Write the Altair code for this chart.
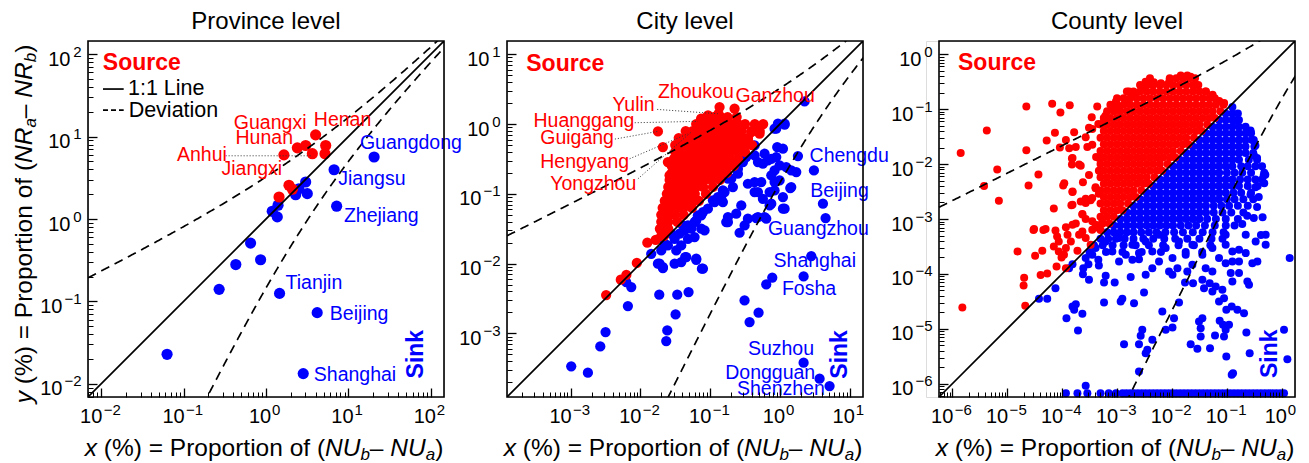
import altair as alt
import numpy as np
import pandas as pd

FONT = "Liberation Sans"
RED = "#ff0000"
BLUE = "#0000ff"
W = H = 356

# ---------------- Province level (values in %) ----------------
prov_source_x = [4.0, 2.4, 3.03, 3.65, 1.65, 5.3, 5.2, 1.9, 2.09, 1.44]
prov_source_y = [10.5, 7.3, 7.8, 6.2, 6.0, 7.8, 6.2, 2.57, 2.3, 1.85]
prov_sink_x = [6.7, 20.5, 7.2, 3.03, 3.17, 2.29, 2.51, 1.40, 1.19, 1.37, 0.65, 0.43, 0.86, 0.27, 1.46, 4.18, 0.063, 2.83]
prov_sink_y = [3.96, 5.65, 1.43, 2.81, 2.03, 1.97, 2.33, 1.47, 1.24, 1.06, 0.51, 0.28, 0.32, 0.14, 0.125, 0.073, 0.0228, 0.0133]

# ---------------- City level (log10 of x %, log10 of y %) ----------------
city_source_log = [
    (-0.865, 0.244), (-0.65, 0.22), (-0.88, 0.15), (-1.13, 0.077), (-1.03, 0.125),
    (-1.748, -0.105), (-1.677, -0.329), (-1.605, -0.544), (-1.581, -0.735),
    (-1.318, -0.162), (-0.411, -0.114), (-0.292, -0.138), (-0.459, -0.21),
    (-1.65, -1.45), (-1.66, -1.60), (-1.78, -1.66), (-1.90, -1.70), (-2.05, -1.99),
    (-2.20, -2.16), (-2.28, -2.23), (-2.49, -2.45),
]
city_source_rows = [
    (0.10, [-1.05, -0.95, -0.85, -0.75, -0.62]),
    (0.00, [-1.20, -1.10, -1.00, -0.90, -0.80, -0.70, -0.60, -0.50, -0.36, -0.24]),
    (-0.10, [-1.35, -1.25, -1.15, -1.05, -0.95, -0.85, -0.75, -0.65, -0.55, -0.41, -0.29]),
    (-0.20, [-1.45, -1.35, -1.25, -1.15, -1.05, -0.95, -0.85, -0.75, -0.65, -0.55, -0.46]),
    (-0.30, [-1.50, -1.40, -1.30, -1.20, -1.10, -1.00, -0.90, -0.80, -0.70, -0.60, -0.50, -0.40]),
    (-0.40, [-1.50, -1.40, -1.30, -1.20, -1.10, -1.00, -0.90, -0.80, -0.70, -0.60, -0.50]),
    (-0.50, [-1.52, -1.42, -1.32, -1.22, -1.12, -1.02, -0.92, -0.82, -0.72, -0.60]),
    (-0.60, [-1.55, -1.45, -1.35, -1.25, -1.15, -1.05, -0.95, -0.85, -0.75, -0.66]),
    (-0.70, [-1.55, -1.45, -1.35, -1.25, -1.15, -1.05, -0.95, -0.85, -0.76]),
    (-0.80, [-1.58, -1.48, -1.38, -1.28, -1.18, -1.08, -0.98, -0.86]),
    (-0.90, [-1.60, -1.50, -1.40, -1.30, -1.20, -1.10, -0.96]),
    (-1.00, [-1.62, -1.52, -1.42, -1.32, -1.22, -1.06]),
    (-1.10, [-1.65, -1.55, -1.45, -1.35, -1.25, -1.16]),
    (-1.20, [-1.68, -1.58, -1.48, -1.38, -1.26]),
    (-1.30, [-1.70, -1.60, -1.50, -1.38]),
    (-1.40, [-1.70, -1.60, -1.47]),
    (-1.50, [-1.72, -1.60]),
    (-1.60, [-1.70]),
]
city_sink_log = [
    (0.353, 0.325), (-0.053, -0.067), (0.067, -0.009), (-0.039, -0.329), (0.043, -0.353),
    (-0.220, -0.425), (-0.125, -0.497), (0.258, -0.458), (0.487, -0.664), (0.616, -1.141),
    (0.654, -1.347), (0.449, -1.891), (0.339, -2.182), (-0.110, -2.201), (-0.196, -2.297),
    (-0.507, -2.526), (-0.306, -2.703), (-0.435, -2.836), (0.339, -3.419), (0.568, -3.648),
    (0.711, -3.753),
    (-2.99, -3.47), (-2.751, -3.562), (-2.574, -3.185), (-2.498, -2.98), (-2.178, -2.607),
    (-2.130, -2.335), (-2.202, -2.264), (-1.729, -2.445), (-1.471, -2.445), (-1.309, -2.407),
    (-1.495, -2.727), (-1.614, -2.956), (-1.629, -3.109), (-1.724, -2.001), (-1.677, -2.063),
    (-1.509, -2.001), (-1.414, -1.977), (-1.357, -1.905), (-1.199, -1.944), (-1.118, -2.072),
    (-1.844, -1.858),
    (-0.029, 0.005), (0.067, 0.005), (-0.077, -0.067), (-0.172, -0.520), (-0.244, -0.568),
    (-0.053, -0.473), (-0.005, -0.592), (-0.077, -0.664), (0.090, -0.616), (0.162, -0.664),
    (0.234, -0.688), (0.148, -0.917), (0.043, -1.046), (0.043, -1.213), (-0.077, -0.950),
    (-0.077, -0.831), (-0.148, -0.974), (-0.459, -0.855), (-0.363, -0.831), (-0.268, -0.831),
    (-0.315, -0.974), (-0.244, -1.070), (-0.363, -0.974), (-0.148, -1.165), (-0.220, -1.332),
    (-0.339, -1.347), (-0.459, -1.356), (-0.554, -1.165), (-0.626, -1.284), (-0.745, -1.332),
    (-0.769, -1.404), (-0.578, -1.557), (-0.506, -1.452),
    (-0.745, -0.783), (-0.817, -0.950), (-0.889, -1.046), (-0.960, -1.093), (-1.032, -1.213),
    (-1.103, -1.261), (-1.175, -1.308), (-1.223, -1.404), (-1.318, -1.452), (-1.366, -1.523),
    (-1.438, -1.571), (-1.509, -1.643), (-1.127, -1.499), (-1.223, -1.619), (-1.318, -1.643),
    (-1.414, -1.738), (-1.485, -1.810), (-1.605, -1.738), (-1.700, -1.810), (-1.748, -2.001),
    (-1.676, -2.049), (-1.342, -1.905), (-1.199, -1.929), (-1.103, -2.072), (-1.557, -1.571),
    (-1.653, -1.714), (-1.080, -1.523), (-1.271, -1.499), (-1.390, -1.452), (-1.199, -1.380),
    (-1.127, -1.308), (-0.936, -1.117), (-0.817, -1.117), (-0.745, -1.404), (-0.315, -1.332),
    (-0.196, -1.356), (-0.124, -1.141), (0.067, -1.213), (0.162, -0.902), (-0.124, -0.735),
    (-0.005, -0.807), (-0.698, -0.783), (-0.602, -0.711), (-0.674, -0.902), (-0.363, -0.449),
    (-0.315, -0.544), (-0.483, -0.473), (-0.530, -0.544), (-0.602, -0.640), (-0.793, -0.974),
    (-0.841, -1.070), (-0.363, -0.306),
]

# ---------------- County level (log10 of x %, log10 of y %) ----------------
county_source_log = [
    (-5.845, -1.80), (-5.37, -1.39), (-5.18, -2.10), (-5.42, -2.40), (-5.15, -2.67),
    (-4.65, -0.95), (-4.65, -1.75), (-4.61, -2.39), (-4.43, -2.19), (-4.18, -0.90),
    (-4.03, -1.06), (-3.86, -0.93), (-4.13, -1.43), (-4.28, -1.57), (-4.15, -2.81),
    (-3.98, -2.39), (-4.04, -1.70), (-3.93, -1.56), (-3.82, -1.90), (-3.82, -2.01),
    (-3.66, -2.03), (-3.78, -1.42), (-3.75, -1.69), (-3.62, -2.33), (-3.81, -2.51),
    (-3.83, -2.75), (-3.75, -3.08), (-3.93, -3.15), (-4.51, -3.18), (-4.30, -3.18),
    (-4.12, -3.21), (-3.57, -2.63), (-3.63, -2.91), (-3.57, -3.00), (-3.36, -0.95),
    (-3.46, -1.15), (-3.34, -1.27), (-3.21, -1.12), (-3.24, -1.24), (-3.45, -1.36),
    (-3.51, -1.34), (-3.57, -1.51), (-3.54, -1.69), (-3.33, -2.12), (-3.38, -1.87),
    (-3.39, -2.42), (-3.33, -2.54), (-3.48, -2.66), (-3.08, -0.96),
    (-5.815, -4.61), (-4.81, -3.59), (-4.69, -4.07), (-4.70, -4.21), (-4.67, -4.58),
    (-4.49, -3.67), (-4.36, -3.58), (-4.39, -4.02), (-4.27, -3.99),
    (-4.09, -3.318), (-4.06, -3.409), (-4.15, -3.50), (-4.06, -3.591), (-3.965, -3.652),
    (-4.01, -3.70), (-4.10, -3.864), (-3.93, -3.895), (-3.90, -3.288), (-3.84, -3.409),
    (-3.72, -3.579), (-3.69, -3.288), (-3.63, -3.227), (-3.57, -3.348), (-3.48, -3.47),
    (-3.45, -3.197), (-3.39, -3.105), (-3.33, -3.166), (-3.81, -3.105), (-3.93, -3.53),
    (-4.52, -3.20), (-4.34, -3.20), (-3.27, -3.06),
    (-3.81, -2.50), (-3.66, -2.68), (-3.96, -2.35), (-3.81, -2.74), (-3.63, -2.92),
    (-3.45, -3.04), (-3.57, -2.71), (-3.45, -2.62), (-3.39, -2.44), (-3.51, -2.20),
    (-3.33, -1.89), (-3.45, -1.65), (-3.69, -2.01), (-3.81, -1.89), (-3.87, -1.71),
    (-2.66, -0.71), (-2.84, -0.83), (-2.99, -0.98), (-3.21, -1.16), (-3.02, -0.86),
    (-2.78, -0.68), (-2.54, -0.62), (-2.36, -0.56), (-2.20, -0.53), (-1.57, -0.56),
    (-1.39, -0.68), (-1.26, -0.74), (-1.14, -0.85), (-1.05, -0.89),
    (-2.48, -0.50), (-2.33, -0.51), (-2.05, -0.50), (-1.84, -0.39), (-1.72, -0.39), (-1.66, -0.41),
]
county_source_rows = [
    (-3.20, [-3.30]),
    (-3.08, [-3.26, -3.14]),
    (-2.96, [-3.30, -3.18, -3.06]),
    (-2.84, [-3.24, -3.12, -3.00, -2.90]),
    (-2.72, [-3.30, -3.18, -3.06, -2.94, -2.80]),
    (-2.60, [-3.24, -3.12, -3.00, -2.88, -2.76, -2.66]),
    (-2.48, [-3.30, -3.18, -3.06, -2.94, -2.82, -2.70, -2.56]),
    (-2.36, [-3.24, -3.12, -3.00, -2.88, -2.76, -2.64, -2.52, -2.42]),
    (-2.24, [-3.30, -3.18, -3.06, -2.94, -2.82, -2.70, -2.58, -2.46, -2.32]),
    (-2.12, [-3.24, -3.12, -3.00, -2.88, -2.76, -2.64, -2.52, -2.40, -2.28, -2.18]),
    (-2.00, [-3.30, -3.18, -3.06, -2.94, -2.82, -2.70, -2.58, -2.46, -2.34, -2.22, -2.08]),
    (-1.88, [-3.24, -3.12, -3.00, -2.88, -2.76, -2.64, -2.52, -2.40, -2.28, -2.16, -2.04, -1.94]),
    (-1.76, [-3.30, -3.18, -3.06, -2.94, -2.82, -2.70, -2.58, -2.46, -2.34, -2.22, -2.10, -1.98, -1.84]),
    (-1.64, [-3.24, -3.12, -3.00, -2.88, -2.76, -2.64, -2.52, -2.40, -2.28, -2.16, -2.04, -1.92, -1.80, -1.70]),
    (-1.52, [-3.30, -3.18, -3.06, -2.94, -2.82, -2.70, -2.58, -2.46, -2.34, -2.22, -2.10, -1.98, -1.86, -1.74, -1.60]),
    (-1.40, [-3.24, -3.12, -3.00, -2.88, -2.76, -2.64, -2.52, -2.40, -2.28, -2.16, -2.04, -1.92, -1.80, -1.68, -1.56, -1.46]),
    (-1.28, [-3.30, -3.18, -3.06, -2.94, -2.82, -2.70, -2.58, -2.46, -2.34, -2.22, -2.10, -1.98, -1.86, -1.74, -1.62, -1.50, -1.36]),
    (-1.16, [-3.24, -3.12, -3.00, -2.88, -2.76, -2.64, -2.52, -2.40, -2.28, -2.16, -2.04, -1.92, -1.80, -1.68, -1.56, -1.44, -1.32, -1.22]),
    (-1.04, [-3.18, -3.06, -2.94, -2.82, -2.70, -2.58, -2.46, -2.34, -2.22, -2.10, -1.98, -1.86, -1.74, -1.62, -1.50, -1.38, -1.26, -1.12]),
    (-0.92, [-3.12, -3.00, -2.88, -2.76, -2.64, -2.52, -2.40, -2.28, -2.16, -2.04, -1.92, -1.80, -1.68, -1.56, -1.44, -1.32, -1.20, -1.06]),
    (-0.80, [-3.00, -2.88, -2.76, -2.64, -2.52, -2.40, -2.28, -2.16, -2.04, -1.92, -1.80, -1.68, -1.56, -1.44, -1.32, -1.22]),
    (-0.68, [-2.82, -2.70, -2.58, -2.46, -2.34, -2.22, -2.10, -1.98, -1.86, -1.74, -1.62, -1.50, -1.38]),
    (-0.56, [-2.58, -2.46, -2.34, -2.22, -2.10, -1.98, -1.86, -1.74, -1.62, -1.52]),
    (-0.44, [-2.40, -2.04, -1.92, -1.80, -1.68, -1.58]),
]
county_sink_log = [
    (-4.42, -4.453), (-4.27, -4.453), (-4.12, -4.259), (-3.92, -4.805), (-3.81, -4.592),
    (-3.75, -4.55), (-3.78, -4.653), (-3.63, -4.726), (-3.71, -5.029), (-3.873, -3.895),
    (-3.81, -3.822), (-3.62, -4.004), (-3.613, -3.895), (-3.52, -3.822), (-3.51, -4.107),
    (-3.57, -3.712), (-3.45, -3.652), (-3.33, -3.846), (-3.34, -3.743), (-3.236, -4.155),
    (-3.206, -4.034), (-3.042, -4.155), (-2.963, -3.773), (-2.751, -4.058), (-2.72, -3.743),
    (-2.60, -3.731), (-3.236, -4.519), (-2.933, -4.501), (-2.903, -4.453), (-2.69, -4.532),
    (-2.508, -4.337), (-2.872, -5.278), (-2.60, -5.278), (-2.54, -5.017), (-2.569, -5.126),
    (-2.478, -5.442), (-2.448, -5.381), (-2.357, -5.199), (-2.60, -5.776), (-2.114, -5.017),
    (-1.99, -4.975), (-2.175, -4.683), (-1.962, -4.805), (-1.871, -4.519), (-1.659, -5.278),
    (-1.537, -5.363), (-1.507, -4.865), (-1.446, -4.805), (-1.477, -4.987), (-1.477, -5.138),
    (-1.307, -5.351), (-1.216, -5.12), (-1.131, -4.853), (-1.07, -4.926), (-1.022, -5.017),
    (-1.052, -5.138), (-0.961, -4.926), (-1.01, -5.503), (-0.888, -5.806), (-0.912, -5.836),
    (-1.01, -4.653), (-0.912, -4.592), (-0.809, -4.653), (-0.688, -4.714), (-0.645, -5.066),
    (-0.585, -5.442), (0.04, -5.017), (0.101, -5.551), (0.143, -3.712), (-0.294, -3.288),
    (-0.294, -3.47), (-3.57, -6.036),
    (-1.90, -3.895), (-1.72, -3.955), (-1.762, -4.155), (-1.616, -4.168), (-1.446, -4.107),
    (-1.416, -4.259), (-1.313, -4.168), (-1.264, -4.319), (-1.204, -4.228), (-1.082, -4.289),
    (-1.052, -4.441), (-1.143, -4.501), (-1.386, -3.895), (-1.264, -3.955), (-0.90, -4.137),
    (-0.93, -3.985), (-0.779, -3.985), (-0.627, -4.137), (-0.597, -4.198), (-0.536, -3.804),
    (-0.445, -3.773), (-0.779, -3.773), (-0.90, -3.773), (-1.022, -3.804), (-0.657, -3.621),
    (-0.779, -3.561), (-0.90, -3.591), (-1.022, -3.47),
    (-3.39, -3.53), (-3.206, -3.409), (-3.085, -3.591), (-2.963, -3.348), (-2.84, -3.652),
    (-2.72, -3.47), (-2.60, -3.621), (-2.478, -3.409), (-2.357, -3.591), (-2.235, -3.288),
    (-2.114, -3.53), (-1.99, -3.712), (-1.871, -3.409), (-1.75, -3.652), (-1.628, -3.47),
    (-1.446, -3.652), (-1.264, -3.53), (-1.143, -3.712), (-1.022, -3.288), (-0.476, -3.409),
    (-0.657, -3.288), (-2.357, -3.895), (-2.235, -3.773), (-2.053, -3.955), (-2.478, -4.016),
    (-1.628, -3.834), (-1.99, -4.016),
    (-0.57, -1.39), (-0.48, -1.66), (-0.51, -1.84), (-0.33, -2.21), (-0.48, -2.42),
    (-0.35, -2.97), (-0.42, -2.60), (-0.45, -2.78), (-0.63, -2.94), (-0.72, -3.09),
    (-0.30, -2.195), (-0.32, -2.35), (-0.38, -3.29), (-0.51, -2.98), (-0.57, -2.56),
    (-0.45, -1.89), (-0.57, -1.41), (-0.51, -1.56), (-0.84, -1.21),
]
county_sink_rows = [
    (-0.96, [-0.90]),
    (-1.08, [-1.02, -0.90, -0.80]),
    (-1.20, [-1.14, -1.02, -0.90, -0.78]),
    (-1.32, [-1.26, -1.14, -1.02, -0.90, -0.78, -0.66]),
    (-1.44, [-1.38, -1.26, -1.14, -1.02, -0.90, -0.78, -0.66, -0.56]),
    (-1.56, [-1.50, -1.38, -1.26, -1.14, -1.02, -0.90, -0.78, -0.66, -0.54]),
    (-1.68, [-1.62, -1.50, -1.38, -1.26, -1.14, -1.02, -0.90, -0.78, -0.66, -0.50]),
    (-1.80, [-1.74, -1.62, -1.50, -1.38, -1.26, -1.14, -1.02, -0.90, -0.78, -0.66, -0.52]),
    (-1.92, [-1.86, -1.74, -1.62, -1.50, -1.38, -1.26, -1.14, -1.02, -0.90, -0.78, -0.60, -0.45]),
    (-2.04, [-1.98, -1.86, -1.74, -1.62, -1.50, -1.38, -1.26, -1.14, -1.02, -0.90, -0.74, -0.62, -0.48, -0.36]),
    (-2.16, [-2.10, -1.98, -1.86, -1.74, -1.62, -1.50, -1.38, -1.26, -1.14, -1.00, -0.86, -0.72, -0.56, -0.32]),
    (-2.28, [-2.22, -2.10, -1.98, -1.86, -1.74, -1.62, -1.50, -1.38, -1.26, -1.14, -1.02, -0.90, -0.76, -0.62, -0.48, -0.36]),
    (-2.40, [-2.34, -2.22, -2.10, -1.98, -1.86, -1.74, -1.62, -1.50, -1.38, -1.26, -1.14, -1.02, -0.90, -0.78, -0.62, -0.44]),
    (-2.52, [-2.46, -2.34, -2.22, -2.10, -1.98, -1.86, -1.74, -1.62, -1.50, -1.38, -1.26, -1.14, -1.02, -0.88, -0.74, -0.56]),
    (-2.64, [-2.58, -2.46, -2.34, -2.22, -2.10, -1.98, -1.86, -1.74, -1.62, -1.50, -1.38, -1.26, -1.14, -1.00, -0.86, -0.70, -0.52]),
    (-2.76, [-2.70, -2.58, -2.46, -2.34, -2.22, -2.10, -1.98, -1.86, -1.74, -1.62, -1.50, -1.38, -1.24, -1.10, -0.96, -0.80, -0.62]),
    (-2.88, [-2.82, -2.70, -2.58, -2.46, -2.34, -2.22, -2.10, -1.98, -1.86, -1.74, -1.62, -1.50, -1.38, -1.24, -1.08, -0.92, -0.70]),
    (-3.00, [-2.94, -2.82, -2.70, -2.58, -2.46, -2.34, -2.22, -2.10, -1.98, -1.86, -1.74, -1.62, -1.50, -1.36, -1.20, -1.02, -0.80]),
    (-3.12, [-3.06, -2.94, -2.82, -2.70, -2.58, -2.46, -2.34, -2.22, -2.10, -1.98, -1.84, -1.70, -1.56, -1.40, -1.22, -1.02, -0.86]),
    (-3.24, [-3.18, -3.06, -2.94, -2.82, -2.70, -2.56, -2.42, -2.28, -2.12, -1.96, -1.80, -1.62, -1.44, -1.26, -1.06]),
    (-3.36, [-3.30, -3.16, -3.02, -2.86, -2.70, -2.52, -2.34, -2.14, -1.94, -1.72, -1.50, -1.28, -1.08]),
    (-3.48, [-3.42, -3.26, -3.08, -2.88, -2.66, -2.42, -2.16, -1.88, -1.60, -1.30]),
    (-3.60, [-3.50, -3.20, -2.90, -2.55, -2.20, -1.75, -1.45]),
]
# sinks with zero source share, drawn on the bottom edge
county_sink_floor_ly = -6.17
county_sink_floor_lx = [
    -3.93, -3.72, -3.54, -3.30, -3.15, -3.02, -2.90, -2.83, -2.76, -2.69, -2.62, -2.55,
    -2.48, -2.41, -2.34, -2.27, -2.20, -2.13, -2.06, -1.99, -1.92, -1.85, -1.78, -1.71,
    -1.64, -1.57, -1.50, -1.43, -1.36, -1.29, -1.22, -1.15, -1.08, -1.01, -0.94, -0.87,
    -0.80, -0.73, -0.66, -0.59, -0.52, -0.45, -0.38, -0.31, -0.24, -0.17, -0.10, -0.03, 0.04,
]

# ---------------- annotations (name, log10 x, log10 y) ----------------
prov_names_src = [("Guangxi", -0.39, 1.16), ("Henan", 0.58, 1.20), ("Hunan", -0.37, 0.98),
                  ("Anhui", -1.08, 0.775), ("Jiangxi", -0.54, 0.61)]
prov_names_sink = [("Guangdong", 1.14, 0.92), ("Jiangsu", 0.877, 0.484), ("Zhejiang", 0.945, 0.035),
                   ("Tianjin", 0.237, -0.775), ("Beijing", 0.775, -1.15), ("Shanghai", 0.58, -1.89)]
prov_leaders = [(-0.49, 0.767, 0.56, 0.767)]
city_names_src = [("Zhoukou", -1.748, 0.459), ("Ganzhou", -0.635, 0.401), ("Yulin", -2.40, 0.268),
                  ("Huanggang", -3.53, 0.043), ("Guigang", -3.434, -0.20), ("Hengyang", -3.434, -0.544),
                  ("Yongzhou", -3.29, -0.864)]
city_names_sink = [("Chengdu", 0.425, -0.458), ("Beijing", 0.434, -0.965), ("Guangzhou", -0.172, -1.51),
                   ("Shanghai", -0.091, -1.967), ("Fosha", 0.028, -2.359), ("Suzhou", -0.459, -3.219),
                   ("Dongguan", -0.784, -3.562), ("Shenzhen", -0.616, -3.791)]
city_leaders = [(-1.758, 0.210, -0.889, 0.148), (-2.08, 0.019, -1.175, 0.039),
                (-2.364, -0.215, -1.748, -0.105), (-2.153, -0.497, -1.318, -0.139),
                (-2.034, -0.784, -1.271, -0.115)]

# ---------------- helpers ----------------
EXP_EXPR = "(round(log(datum.value)/LN10) < 0 ? '\u2212' : '') + abs(round(log(datum.value)/LN10))"
NEG = "datum.value < 0.5"
AW = {' ': 278, '(': 333, ')': 333, '%': 889, '=': 584, 'P': 667, 'r': 333, 'o': 556, 'p': 556,
      't': 278, 'i': 222, 'n': 556, 'f': 278, 'N': 722, 'U': 722, 'R': 722, 'x': 500, 'y': 500,
      'a': 556, 'b': 556, '\u2013': 556}
X_PARTS = [("x", True, False), (" (%) = Proportion of (", False, False), ("NU", True, False),
           ("b", True, True), ("\u2013 ", False, False), ("NU", True, False), ("a", True, True), (")", False, False)]
Y_PARTS = [("y", True, False), (" (%) = Proportion of (", False, False), ("NR", True, False),
           ("a", True, True), ("\u2013 ", False, False), ("NR", True, False), ("b", True, True), (")", False, False)]
T_FS, T_SUB = 24.5, 17


def seg_table(parts):
    rows, off = [], 0.0
    for txt, ital, sub in parts:
        f = T_SUB if sub else T_FS
        lead = len(txt) - len(txt.lstrip(' '))
        rows.append(dict(t=txt.strip(' '), ital=ital, sub=sub, off=off + lead * AW[' '] * f / 1000, fs=f))
        off += sum(AW.get(ch, 556) for ch in txt) * f / 1000
    return rows, off


def title_layers(horizontal, xs):
    rows, total = seg_table(X_PARTS if horizontal else Y_PARTS)
    recs = []
    for r in rows:
        if horizontal:
            x0 = xs + W / 2 - 2 - total / 2
            recs.append(dict(px=x0 + r["off"], py=H + 59 + (4 if r["sub"] else 0), t=r["t"], fs=r["fs"], ital=r["ital"]))
        else:
            y0 = H / 2 + 5 + total / 2
            recs.append(dict(px=xs - 56 + (4 if r["sub"] else 0), py=y0 - r["off"], t=r["t"], fs=r["fs"], ital=r["ital"]))
    df = pd.DataFrame(recs)
    out = []
    for ital in (False, True):
        d = df[df["ital"] == ital].drop(columns=["ital"])
        out.append(alt.Chart(d).mark_text(align="left", baseline="alphabetic", font=FONT, color="black",
                                          fontStyle="italic" if ital else "normal",
                                          angle=0 if horizontal else 270).encode(
            x=alt.X("px:Q", scale=None, axis=None), y=alt.Y("py:Q", scale=None, axis=None),
            size=alt.Size("fs:Q", scale=None, legend=None), text="t:N"))
    return out


def logs_df(pairs):
    return pd.DataFrame({"x": [10 ** a for a, b in pairs], "y": [10 ** b for a, b in pairs]})


def names_df(items):
    return pd.DataFrame({"name": [n for n, a, b in items], "x": [10 ** a for n, a, b in items],
                         "y": [10 ** b for n, a, b in items]})


def panel(title, lo_e, hi_e, major_e, c_dev, src_df, sink_df, pt_size, names_src, names_sink,
          leaders, source_at, sink_at, ytitle=False, legend=False, xs=0):
    lo, hi = 10 ** lo_e, 10 ** hi_e
    scx = alt.Scale(type="log", domain=[lo, hi], nice=False, range=[xs, W + xs])
    scy = alt.Scale(type="log", domain=[lo, hi], nice=False)
    major = [10.0 ** e for e in major_e]
    minor = [k * 10.0 ** e for e in range(int(np.floor(lo_e)), int(np.ceil(hi_e)) + 1)
             for k in range(2, 10) if lo <= k * 10.0 ** e <= hi]
    lab = dict(ticks=False, tickSize=0, domain=False, grid=False, title=None, labelFont=FONT,
               labelColor="black", labelFlush=False, labelOverlap=False, labelBound=False)
    ax_x10 = alt.Axis(orient="bottom", values=major, labelExpr="'10'", labelFontSize=20, labelAlign="center",
                      labelBaseline="top", labelPadding=9,
                      labelOffset={"condition": {"test": NEG, "value": -10.5}, "value": -6.5}, **lab)
    ax_xex = alt.Axis(orient="bottom", values=major, labelExpr=EXP_EXPR, labelFontSize=15, labelAlign="left",
                      labelBaseline="top", labelPadding=5,
                      labelOffset={"condition": {"test": NEG, "value": 2}, "value": 5.5}, **lab)
    ax_y10 = alt.Axis(orient="left", offset=-xs, values=major, labelExpr="'10'", labelFontSize=20,
                      labelAlign="right", labelBaseline="middle",
                      labelPadding={"condition": {"test": NEG, "value": 26}, "value": 18},
                      labelOffset=5, **lab)
    ax_yex = alt.Axis(orient="left", offset=-xs, values=major, labelExpr=EXP_EXPR, labelFontSize=15,
                      labelAlign="right", labelBaseline="middle", labelPadding=7, labelOffset=-3, **lab)
    tk = dict(labels=False, domain=False, grid=False, ticks=True, tickColor="black", title=None, zindex=1)
    ax_xmaj = alt.Axis(orient="top", offset=-H, values=major, tickSize=9, tickWidth=1.3, **tk)
    ax_xmin = alt.Axis(orient="top", offset=-H, values=minor, tickSize=5, tickWidth=1, **tk)
    ax_ymaj = alt.Axis(orient="right", offset=-W, values=major, tickSize=9, tickWidth=1.3, **tk)
    ax_ymin = alt.Axis(orient="right", offset=-W, values=minor, tickSize=5, tickWidth=1, **tk)

    def xy(ax=None, ay=None):
        return dict(x=alt.X("x:Q", scale=scx, axis=ax), y=alt.Y("y:Q", scale=scy, axis=ay))

    layers = []
    layers.append(alt.Chart(sink_df).mark_circle(size=pt_size, color=BLUE, opacity=1).encode(**xy(ax_x10, ax_y10)))
    layers.append(alt.Chart(src_df).mark_circle(size=pt_size, color=RED, opacity=1).encode(**xy(ax_xex, ax_yex)))

    # deviation curves y = x + c*sqrt(x) and its mirror image about the 1:1 line
    t = np.linspace(lo_e, hi_e + 0.1, 300)
    v = 10 ** t
    w = v + c_dev * np.sqrt(v)
    up = pd.DataFrame({"x": v, "y": w, "i": np.arange(len(v))})
    t2 = np.linspace(lo_e - 0.6, hi_e, 300)
    v2 = 10 ** t2
    w2 = v2 + c_dev * np.sqrt(v2)
    dn = pd.DataFrame({"x": w2, "y": v2, "i": np.arange(len(v2))})
    layers.append(alt.Chart(up).mark_line(color="black", strokeWidth=1.7, strokeDash=[9, 6], clip=True).encode(
        order="i:Q", **xy(ax_xmin, ax_ymin)))
    layers.append(alt.Chart(dn).mark_line(color="black", strokeWidth=1.7, strokeDash=[9, 6], clip=True).encode(
        order="i:Q", **xy()))
    one = pd.DataFrame({"x": [lo, hi], "y": [lo, hi]})
    layers.append(alt.Chart(one).mark_line(color="black", strokeWidth=1.7, clip=True).encode(**xy(ax_xmaj, ax_ymaj)))

    if leaders:
        ld = pd.DataFrame({"x": [10 ** a for a, b, c, d in leaders], "y": [10 ** b for a, b, c, d in leaders],
                           "x2": [10 ** c for a, b, c, d in leaders], "y2": [10 ** d for a, b, c, d in leaders]})
        layers.append(alt.Chart(ld).mark_rule(color="#333333", strokeWidth=1, strokeDash=[1, 2]).encode(
            x2="x2:Q", y2="y2:Q", **xy()))
    for items, col in ((names_src, RED), (names_sink, BLUE)):
        if items:
            layers.append(alt.Chart(names_df(items)).mark_text(align="left", baseline="middle", font=FONT,
                                                                fontSize=19.5, color=col).encode(text="name:N", **xy()))
    layers.append(alt.Chart(names_df([("Source",) + source_at])).mark_text(
        align="left", baseline="middle", font=FONT, fontSize=23, fontWeight="bold", color=RED).encode(text="name:N", **xy()))
    layers.append(alt.Chart(names_df([("Sink",) + sink_at])).mark_text(
        align="center", baseline="middle", font=FONT, fontSize=23, fontWeight="bold", color=BLUE, angle=270).encode(
        text="name:N", **xy()))
    if legend:
        lg = pd.DataFrame({"x": [10 ** -1.978] * 2, "x2": [10 ** -1.727] * 2, "y": [10 ** 1.577, 10 ** 1.322],
                           "k": ["solid", "dash"]})
        layers.append(alt.Chart(lg[lg.k == "solid"]).mark_rule(color="black", strokeWidth=1.7).encode(x2="x2:Q", **xy()))
        layers.append(alt.Chart(lg[lg.k == "dash"]).mark_rule(color="black", strokeWidth=1.7, strokeDash=[5, 3]).encode(
            x2="x2:Q", **xy()))
        layers.append(alt.Chart(names_df([("1:1 Line", -1.675, 1.577), ("Deviation", -1.667, 1.31)])).mark_text(
            align="left", baseline="middle", font=FONT, fontSize=21.5, color="black").encode(text="name:N", **xy()))
    # plot frame
    layers.append(alt.Chart(pd.DataFrame({"f": [0]})).mark_rect(fill="transparent", stroke="black", strokeWidth=1.6).encode(
        x=alt.value(xs), x2=alt.value(W + xs), y=alt.value(0), y2=alt.value(H)))
    layers += title_layers(True, xs)
    if ytitle:
        layers += title_layers(False, xs)
    return alt.layer(*layers).resolve_axis(x="independent", y="independent").properties(
        width=W + xs, height=H,
        title=alt.TitleParams(title, font=FONT, fontSize=24, fontWeight="normal", color="black", offset=6, dx=xs / 2))


prov_src = pd.DataFrame({"x": prov_source_x, "y": prov_source_y})
prov_sink = pd.DataFrame({"x": prov_sink_x, "y": prov_sink_y})
city_src = logs_df(city_source_log + [(lx, ly) for ly, xs_ in city_source_rows for lx in xs_])
city_sink = logs_df(city_sink_log)
county_src = logs_df(county_source_log + [(lx, ly) for ly, xs_ in county_source_rows for lx in xs_])
county_sink = logs_df(county_sink_log + [(lx, ly) for ly, xs_ in county_sink_rows for lx in xs_]
                      + [(lx, county_sink_floor_ly) for lx in county_sink_floor_lx])

p1 = panel("Province level", -2.16, 2.16, [-2, -1, 0, 1, 2], 2.24, prov_src, prov_sink, 125,
           prov_names_src, prov_names_sink, prov_leaders, (-1.98, 1.89), (1.816, -1.64), ytitle=True, legend=True)
p2 = panel("City level", -3.91, 1.19, [-3, -2, -1, 0, 1], 2.25, city_src, city_sink, 105,
           city_names_src, city_names_sink, city_leaders, (-3.634, 0.865), (0.855, -3.30))
p3 = panel("County level", -6.24, 0.24, [-6, -5, -4, -3, -2, -1, 0], 2.15, county_src, county_sink, 64,
           [], [], [], (-5.894, -0.163), (-0.22, -5.454), xs=13)

chart = alt.hconcat(p1, p2, p3, spacing=63, bounds="flush").properties(
    padding={"left": 3, "top": 1, "right": 2, "bottom": 5}
).configure_view(strokeOpacity=0).configure(background="white")

chart.save("out.html", embed_options={"renderer": "svg", "actions": False})
